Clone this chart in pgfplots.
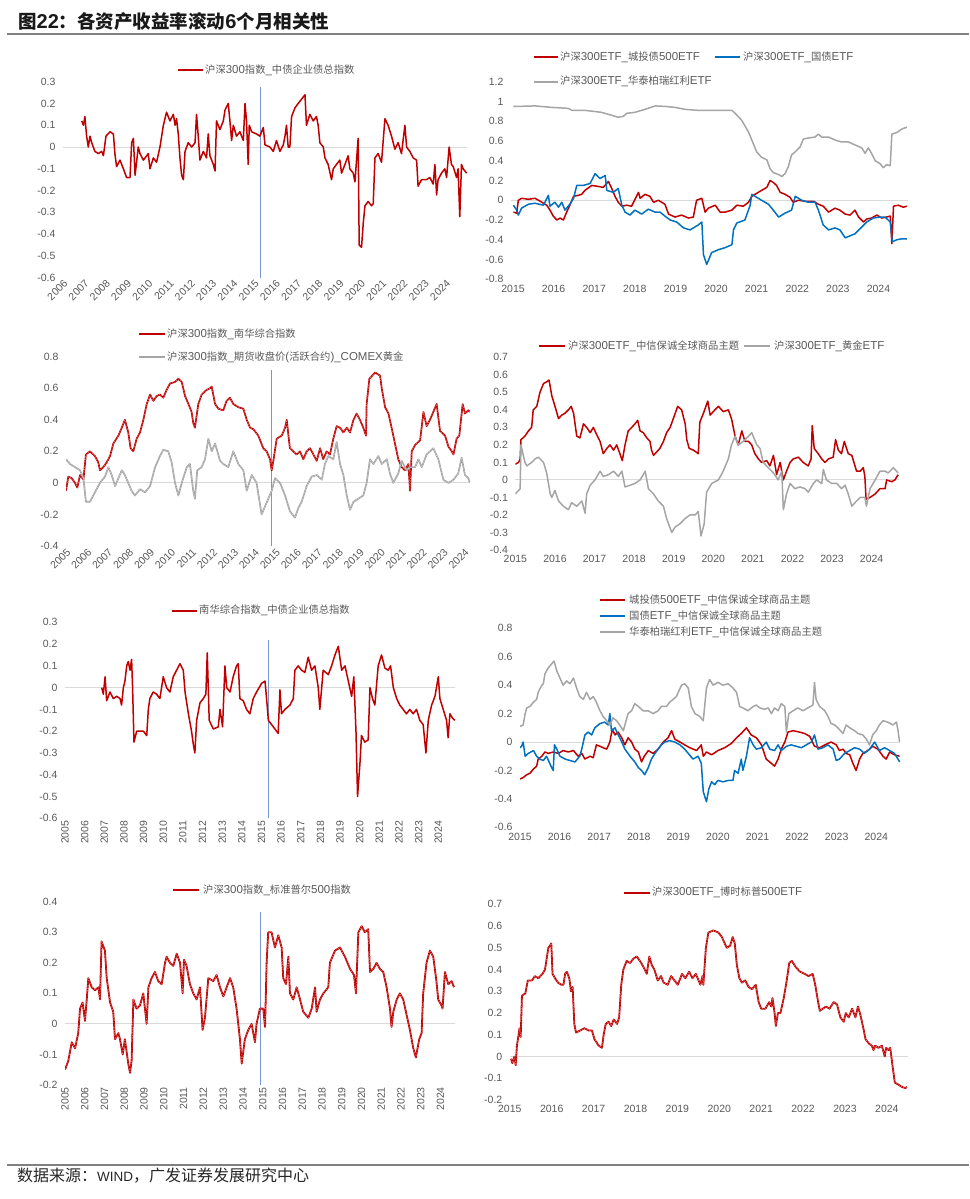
\documentclass[border=0pt]{standalone}
\usepackage{fontspec}
\setmainfont{Liberation Sans}
\newfontfamily\cjk{Noto Sans CJK SC}
\usepackage{pgfplots}
\usepackage{pgfplotstable}
\pgfplotsset{compat=1.18}
\definecolor{cred}{RGB}{192,0,0}
\definecolor{cblue}{RGB}{0,112,192}
\definecolor{cgray}{RGB}{165,165,165}
\definecolor{zgray}{RGB}{217,217,217}
\definecolor{tgray}{RGB}{89,89,89}
\definecolor{vblue}{RGB}{120,150,210}
\definecolor{rulegray}{RGB}{128,128,128}
\newcommand\C[1]{{\cjk\fontsize{10.3}{12}\selectfont #1}}
\newcommand\lf{\fontsize{11.5}{13}\selectfont}
\pgfplotsset{
  /pgf/number format/assume math mode=true,
  panel/.style={scale only axis, enlargelimits=false, anchor=south west,
    axis line style={draw=none}, tick style={draw=none}, major tick length=0pt,
    tick label style={font=\fontsize{10.5}{12}\selectfont, text=tgray},
    x tick label style={/pgf/number format/1000 sep={}},
    y tick label style={/pgf/number format/fixed, /pgf/number format/precision=1, xshift=-4pt},
    extra y ticks={0}, extra y tick labels={},
    extra y tick style={grid=major, major grid style={zgray, line width=0.9pt}}},
  rightp/.style={x tick label style={yshift=-2pt}, xtick={2015,2016,...,2024}},
  rser/.style={cred, line width=1.5pt, line join=round, no markers},
  bser/.style={cblue, line width=1.5pt, line join=round, no markers},
  gser/.style={cgray, line width=1.5pt, line join=round, no markers},
  speck/.style={white, opacity=0.5, line width=0.5pt, dash pattern=on 1.3pt off 1.3pt, no markers},
  vline/.style={vblue, line width=0.7pt, no markers}
}

% ---------- Panel 1 ----------
\pgfplotstableread{
x y
2006.88 0.12
2006.96 0.10
2007.03 0.14
2007.11 0.05
2007.19 0.00
2007.27 0.05
2007.35 0.02
2007.50 -0.02
2007.66 -0.03
2007.82 -0.02
2007.90 -0.04
2008.02 0.05
2008.21 0.07
2008.37 0.06
2008.44 -0.03
2008.52 -0.09
2008.68 -0.06
2008.84 -0.10
2008.99 -0.14
2009.15 -0.14
2009.23 0.02
2009.31 0.04
2009.39 -0.13
2009.54 0.00
2009.62 -0.03
2009.78 -0.06
2010.01 -0.03
2010.09 -0.10
2010.25 -0.05
2010.40 -0.07
2010.56 0.00
2010.72 0.10
2010.87 0.16
2011.03 0.12
2011.19 0.15
2011.27 0.10
2011.34 0.13
2011.42 0.06
2011.50 -0.05
2011.58 -0.13
2011.66 -0.15
2011.74 -0.02
2011.89 0.02
2012.05 0.00
2012.21 0.02
2012.28 0.15
2012.36 0.05
2012.44 -0.06
2012.60 -0.02
2012.75 -0.05
2012.83 0.06
2012.91 -0.04
2013.07 -0.08
2013.15 -0.11
2013.22 0.12
2013.38 0.08
2013.54 0.12
2013.62 0.17
2013.77 0.20
2013.85 0.12
2013.93 0.03
2014.01 0.10
2014.16 0.05
2014.32 0.07
2014.48 0.03
2014.56 0.20
2014.63 0.12
2014.71 -0.08
2014.76 0.10
2014.87 0.07
2015.10 0.06
2015.26 0.05
2015.42 0.09
2015.50 0.01
2015.73 0.00
2015.89 -0.02
2016.04 0.03
2016.20 -0.02
2016.36 0.01
2016.44 0.05
2016.51 0.10
2016.59 0.00
2016.67 0.00
2016.75 0.14
2016.91 0.18
2017.06 0.20
2017.22 0.22
2017.38 0.24
2017.45 0.10
2017.61 0.15
2017.77 0.12
2017.92 0.14
2018.00 0.10
2018.08 0.02
2018.24 0.00
2018.32 -0.05
2018.47 -0.08
2018.63 -0.15
2018.71 -0.10
2018.86 -0.08
2019.02 -0.06
2019.10 -0.12
2019.26 -0.08
2019.41 -0.04
2019.49 -0.10
2019.65 -0.12
2019.73 -0.16
2019.88 0.04
2019.93 -0.45
2020.04 -0.46
2020.12 -0.35
2020.20 -0.27
2020.35 -0.25
2020.51 -0.27
2020.59 -0.26
2020.67 -0.05
2020.82 -0.03
2020.98 -0.07
2021.14 0.13
2021.29 0.10
2021.45 0.05
2021.61 -0.01
2021.76 0.02
2021.92 -0.03
2022.08 0.10
2022.16 0.00
2022.31 -0.02
2022.47 -0.05
2022.63 -0.06
2022.70 -0.18
2022.86 -0.15
2023.09 -0.15
2023.25 -0.14
2023.41 -0.17
2023.49 -0.08
2023.57 -0.22
2023.64 -0.15
2023.80 -0.12
2023.96 -0.10
2024.04 -0.14
2024.16 0.00
2024.27 -0.08
2024.35 -0.09
2024.51 -0.14
2024.58 -0.10
2024.66 -0.32
2024.74 -0.08
2024.82 -0.10
2024.98 -0.12
}\tA

% ---------- Panel 2 ----------
\pgfplotstableread{
x y
2015.01 -0.12
2015.09 -0.13
2015.13 0.00
2015.21 0.02
2015.38 0.01
2015.54 0.02
2015.71 -0.02
2015.83 -0.05
2015.91 -0.10
2015.99 -0.16
2016.08 -0.20
2016.16 -0.18
2016.24 -0.20
2016.32 -0.12
2016.40 -0.05
2016.49 0.04
2016.61 0.05
2016.69 0.06
2016.77 0.10
2016.94 0.15
2017.10 0.14
2017.22 0.13
2017.35 0.19
2017.43 0.12
2017.51 0.04
2017.59 -0.02
2017.68 -0.06
2017.80 -0.05
2017.92 -0.06
2018.09 0.08
2018.13 0.02
2018.25 0.06
2018.37 0.04
2018.46 -0.02
2018.58 0.00
2018.74 -0.04
2018.83 -0.14
2018.99 -0.17
2019.15 -0.15
2019.32 -0.18
2019.44 -0.17
2019.52 0.00
2019.65 0.02
2019.73 -0.12
2019.81 -0.08
2019.98 -0.05
2020.10 -0.12
2020.22 -0.12
2020.39 -0.10
2020.51 -0.05
2020.67 -0.06
2020.80 -0.02
2020.88 0.04
2021.00 0.07
2021.12 0.10
2021.25 0.13
2021.33 0.20
2021.41 0.18
2021.49 0.15
2021.58 0.08
2021.70 0.06
2021.82 0.03
2021.90 -0.02
2022.03 0.00
2022.19 -0.01
2022.40 -0.01
2022.52 -0.04
2022.64 -0.06
2022.77 -0.12
2022.93 -0.08
2023.05 -0.10
2023.18 -0.14
2023.30 -0.15
2023.42 -0.10
2023.51 -0.17
2023.63 -0.22
2023.71 -0.19
2023.83 -0.18
2023.96 -0.15
2024.08 -0.18
2024.20 -0.17
2024.29 -0.16
2024.33 -0.44
2024.37 -0.06
2024.49 -0.05
2024.61 -0.07
2024.70 -0.06
}\tBr
\pgfplotstableread{
x y
2015.01 -0.05
2015.09 -0.10
2015.13 -0.15
2015.21 -0.08
2015.38 -0.04
2015.54 -0.03
2015.75 -0.05
2015.87 0.05
2015.91 -0.06
2016.03 -0.02
2016.12 -0.07
2016.20 -0.02
2016.28 -0.10
2016.40 -0.04
2016.49 0.02
2016.57 0.15
2016.73 0.15
2016.90 0.17
2017.02 0.27
2017.14 0.22
2017.27 0.25
2017.31 0.10
2017.47 0.08
2017.59 0.12
2017.68 -0.05
2017.76 -0.12
2017.88 -0.15
2018.00 -0.10
2018.17 -0.14
2018.33 -0.09
2018.50 -0.12
2018.62 -0.12
2018.74 -0.16
2018.87 -0.20
2019.03 -0.22
2019.20 -0.28
2019.36 -0.30
2019.56 -0.25
2019.65 -0.22
2019.69 -0.55
2019.77 -0.65
2019.89 -0.53
2020.06 -0.50
2020.22 -0.48
2020.39 -0.45
2020.43 -0.30
2020.51 -0.23
2020.71 -0.20
2020.84 -0.05
2020.88 0.06
2021.00 0.03
2021.12 0.00
2021.29 -0.04
2021.41 -0.10
2021.54 -0.17
2021.70 -0.13
2021.86 -0.10
2021.95 0.04
2022.11 0.00
2022.27 -0.02
2022.44 -0.02
2022.52 -0.10
2022.64 -0.25
2022.77 -0.30
2022.93 -0.28
2023.05 -0.30
2023.18 -0.38
2023.30 -0.36
2023.42 -0.34
2023.59 -0.27
2023.71 -0.22
2023.87 -0.18
2024.04 -0.17
2024.16 -0.17
2024.29 -0.22
2024.34 -0.42
2024.45 -0.40
2024.57 -0.39
2024.70 -0.39
}\tBb
\pgfplotstableread{
x y
2015.01 0.95
2015.13 0.95
2015.54 0.955
2015.95 0.94
2016.36 0.93
2016.45 0.91
2016.77 0.91
2017.18 0.89
2017.43 0.86
2017.59 0.84
2017.72 0.85
2017.80 0.88
2018.00 0.89
2018.25 0.92
2018.50 0.955
2018.74 0.95
2018.99 0.94
2019.24 0.92
2019.56 0.91
2019.89 0.91
2020.06 0.91
2020.39 0.91
2020.47 0.88
2020.63 0.81
2020.80 0.69
2020.88 0.61
2021.00 0.49
2021.12 0.435
2021.25 0.41
2021.33 0.32
2021.41 0.28
2021.54 0.26
2021.62 0.24
2021.70 0.27
2021.78 0.34
2021.86 0.46
2021.95 0.49
2022.07 0.54
2022.15 0.62
2022.27 0.63
2022.44 0.64
2022.52 0.67
2022.60 0.64
2022.77 0.64
2022.93 0.61
2023.09 0.59
2023.26 0.59
2023.42 0.56
2023.59 0.53
2023.67 0.475
2023.75 0.53
2023.83 0.475
2023.92 0.40
2024.04 0.37
2024.12 0.33
2024.20 0.36
2024.29 0.35
2024.33 0.67
2024.45 0.685
2024.57 0.72
2024.70 0.74
}\tBg

% ---------- Panel 3 ----------
\pgfplotstableread{
x y
2005.00 -0.05
2005.11 0.04
2005.27 0.03
2005.43 0.00
2005.54 -0.03
2005.67 0.05
2005.83 0.02
2005.95 0.18
2006.14 0.20
2006.38 0.17
2006.54 0.13
2006.62 0.08
2006.78 0.10
2006.94 0.13
2007.10 0.17
2007.26 0.25
2007.50 0.30
2007.66 0.35
2007.81 0.40
2007.97 0.32
2008.08 0.22
2008.21 0.20
2008.37 0.28
2008.53 0.32
2008.69 0.40
2008.85 0.50
2009.01 0.56
2009.17 0.52
2009.32 0.55
2009.48 0.56
2009.64 0.54
2009.80 0.59
2009.96 0.63
2010.20 0.64
2010.36 0.66
2010.52 0.64
2010.68 0.55
2010.84 0.50
2010.99 0.45
2011.07 0.38
2011.15 0.35
2011.31 0.50
2011.47 0.56
2011.71 0.59
2011.87 0.60
2011.95 0.61
2012.11 0.50
2012.27 0.47
2012.50 0.46
2012.66 0.52
2012.82 0.54
2012.98 0.50
2013.22 0.48
2013.46 0.47
2013.62 0.40
2013.78 0.35
2013.94 0.34
2014.17 0.30
2014.41 0.22
2014.57 0.20
2014.73 0.15
2014.81 0.08
2014.89 0.14
2015.05 0.28
2015.29 0.30
2015.45 0.35
2015.53 0.40
2015.61 0.30
2015.68 0.22
2015.84 0.20
2016.00 0.18
2016.16 0.20
2016.32 0.15
2016.48 0.20
2016.64 0.22
2016.80 0.18
2016.96 0.14
2017.12 0.22
2017.27 0.15
2017.43 0.20
2017.59 0.18
2017.75 0.28
2017.91 0.36
2018.07 0.35
2018.23 0.32
2018.39 0.35
2018.55 0.32
2018.71 0.40
2018.86 0.44
2019.02 0.40
2019.18 0.35
2019.31 0.30
2019.34 0.50
2019.47 0.66
2019.74 0.70
2019.98 0.68
2020.06 0.60
2020.22 0.48
2020.38 0.44
2020.53 0.35
2020.69 0.25
2020.85 0.15
2021.01 0.10
2021.17 0.08
2021.33 0.12
2021.41 -0.05
2021.49 0.20
2021.65 0.24
2021.89 0.27
2022.05 0.45
2022.20 0.36
2022.36 0.40
2022.52 0.45
2022.68 0.50
2022.84 0.33
2023.08 0.30
2023.24 0.23
2023.40 0.20
2023.48 0.18
2023.63 0.28
2023.76 0.30
2023.92 0.50
2024.03 0.44
2024.19 0.46
2024.27 0.45
}\tCr
\pgfplotstableread{
x y
2005.00 0.15
2005.19 0.12
2005.43 0.10
2005.67 0.08
2005.83 0.03
2005.95 -0.12
2006.14 -0.12
2006.38 -0.06
2006.62 0.00
2006.86 0.04
2007.02 0.10
2007.18 0.05
2007.34 -0.02
2007.50 0.03
2007.66 0.08
2007.81 0.05
2007.97 0.00
2008.13 -0.05
2008.29 -0.08
2008.53 -0.04
2008.77 -0.06
2009.01 -0.02
2009.25 0.10
2009.48 0.17
2009.64 0.21
2009.88 0.20
2010.04 0.13
2010.20 0.00
2010.36 -0.08
2010.52 0.00
2010.76 0.10
2010.91 0.12
2011.07 -0.05
2011.15 -0.10
2011.26 0.08
2011.47 0.10
2011.63 0.15
2011.79 0.28
2011.95 0.20
2012.11 0.25
2012.35 0.14
2012.50 0.12
2012.74 0.10
2012.98 0.20
2013.22 0.12
2013.46 0.08
2013.62 -0.05
2013.86 0.05
2014.09 0.00
2014.33 -0.20
2014.49 -0.15
2014.65 -0.10
2014.81 -0.05
2014.97 0.03
2015.21 0.00
2015.45 -0.08
2015.68 -0.18
2015.92 -0.22
2016.08 -0.16
2016.24 -0.12
2016.48 -0.02
2016.72 0.04
2016.96 0.05
2017.20 0.02
2017.35 0.12
2017.51 0.17
2017.75 0.15
2017.91 0.26
2018.07 0.12
2018.23 0.05
2018.39 -0.08
2018.55 -0.17
2018.71 -0.12
2018.94 -0.10
2019.18 -0.08
2019.34 0.00
2019.50 0.15
2019.66 0.12
2019.90 0.17
2020.06 0.12
2020.30 0.15
2020.45 0.06
2020.61 0.00
2020.85 0.06
2021.01 0.14
2021.25 0.08
2021.41 0.10
2021.65 0.10
2021.81 0.15
2021.97 0.10
2022.20 0.18
2022.52 0.22
2022.76 0.15
2023.00 0.02
2023.24 0.00
2023.48 0.02
2023.71 0.06
2023.87 0.16
2024.03 0.05
2024.19 0.03
2024.27 0.00
}\tCg

% ---------- Panel 4 ----------
\pgfplotstableread{
x y
2015.00 0.09
2015.08 0.10
2015.12 0.12
2015.14 0.23
2015.24 0.25
2015.33 0.28
2015.41 0.30
2015.45 0.40
2015.54 0.42
2015.62 0.50
2015.71 0.55
2015.79 0.56
2015.85 0.57
2015.92 0.48
2016.00 0.42
2016.09 0.35
2016.17 0.37
2016.25 0.38
2016.34 0.40
2016.41 0.42
2016.47 0.38
2016.55 0.25
2016.63 0.24
2016.72 0.32
2016.80 0.30
2016.89 0.27
2016.97 0.30
2017.05 0.26
2017.14 0.22
2017.22 0.15
2017.31 0.18
2017.39 0.20
2017.48 0.17
2017.56 0.20
2017.64 0.15
2017.70 0.11
2017.77 0.20
2017.85 0.28
2017.94 0.30
2018.02 0.32
2018.09 0.34
2018.15 0.28
2018.23 0.27
2018.32 0.24
2018.40 0.22
2018.44 0.17
2018.49 0.14
2018.57 0.16
2018.65 0.18
2018.74 0.22
2018.82 0.27
2018.91 0.30
2018.99 0.35
2019.10 0.42
2019.20 0.40
2019.29 0.32
2019.33 0.23
2019.39 0.18
2019.50 0.17
2019.62 0.15
2019.66 0.33
2019.75 0.38
2019.86 0.45
2019.92 0.37
2020.04 0.40
2020.13 0.42
2020.25 0.39
2020.38 0.40
2020.46 0.35
2020.55 0.25
2020.63 0.20
2020.72 0.28
2020.80 0.22
2020.89 0.22
2020.97 0.20
2021.05 0.15
2021.14 0.12
2021.22 0.10
2021.35 0.11
2021.43 0.08
2021.52 0.14
2021.60 0.03
2021.69 0.10
2021.77 0.00
2021.85 0.05
2021.94 0.10
2022.02 0.12
2022.15 0.13
2022.27 0.10
2022.40 0.08
2022.47 0.12
2022.50 0.31
2022.55 0.18
2022.65 0.15
2022.74 0.12
2022.82 0.10
2022.91 0.12
2023.03 0.13
2023.09 0.23
2023.16 0.17
2023.24 0.15
2023.31 0.22
2023.41 0.15
2023.50 0.14
2023.62 0.05
2023.71 0.05
2023.79 0.07
2023.83 0.02
2023.86 -0.11
2023.96 -0.10
2024.09 -0.08
2024.21 -0.05
2024.34 -0.05
2024.38 0.00
2024.51 -0.01
2024.59 0.00
2024.67 0.03
}\tDr
\pgfplotstableread{
x y
2015.00 -0.08
2015.08 -0.06
2015.12 -0.05
2015.14 0.20
2015.20 0.14
2015.24 0.10
2015.29 0.08
2015.41 0.10
2015.50 0.12
2015.58 0.13
2015.71 0.10
2015.79 0.04
2015.88 -0.08
2015.92 -0.10
2016.00 -0.06
2016.09 -0.12
2016.21 -0.15
2016.34 -0.17
2016.42 -0.13
2016.55 -0.15
2016.68 -0.12
2016.76 -0.19
2016.80 -0.08
2016.89 -0.03
2017.01 0.00
2017.14 0.05
2017.22 0.02
2017.35 0.03
2017.48 0.05
2017.60 0.02
2017.69 0.05
2017.77 -0.04
2017.90 -0.03
2018.02 -0.02
2018.15 0.00
2018.28 0.05
2018.36 -0.05
2018.49 -0.08
2018.61 -0.12
2018.74 -0.15
2018.82 -0.22
2018.95 -0.30
2019.03 -0.27
2019.16 -0.25
2019.29 -0.22
2019.41 -0.20
2019.54 -0.20
2019.62 -0.18
2019.69 -0.32
2019.77 -0.25
2019.83 -0.07
2019.96 -0.02
2020.13 0.00
2020.25 0.05
2020.38 0.12
2020.46 0.20
2020.55 0.25
2020.63 0.20
2020.76 0.22
2020.89 0.25
2020.97 0.27
2021.10 0.20
2021.18 0.18
2021.26 0.10
2021.39 0.07
2021.52 0.04
2021.64 0.00
2021.73 0.05
2021.77 -0.17
2021.85 -0.08
2021.94 -0.02
2022.06 -0.05
2022.19 -0.04
2022.32 -0.05
2022.40 -0.07
2022.53 -0.02
2022.61 0.00
2022.74 -0.02
2022.78 0.06
2022.86 0.00
2022.99 -0.02
2023.12 -0.02
2023.24 -0.05
2023.33 -0.03
2023.41 -0.08
2023.50 -0.15
2023.58 -0.13
2023.71 -0.10
2023.83 -0.10
2023.87 -0.15
2023.96 -0.05
2024.09 0.00
2024.21 0.05
2024.34 0.05
2024.42 0.04
2024.55 0.07
2024.67 0.04
}\tDg

% ---------- Panel 5 ----------
\pgfplotstableread{
x y
2006.87 0.00
2006.95 -0.03
2007.04 0.05
2007.12 -0.06
2007.29 -0.02
2007.46 -0.05
2007.63 -0.04
2007.80 -0.05
2007.88 -0.08
2007.97 0.00
2008.05 0.03
2008.14 0.10
2008.22 0.12
2008.31 0.08
2008.39 0.13
2008.44 0.00
2008.51 -0.25
2008.65 -0.20
2008.82 -0.20
2008.99 -0.20
2009.16 -0.22
2009.24 -0.10
2009.32 -0.05
2009.49 -0.02
2009.66 -0.03
2009.83 -0.05
2010.00 0.05
2010.17 0.00
2010.34 -0.02
2010.51 0.05
2010.68 0.08
2010.85 0.11
2011.02 0.08
2011.11 -0.02
2011.28 -0.12
2011.44 -0.20
2011.53 -0.26
2011.61 -0.30
2011.70 -0.15
2011.87 -0.07
2012.04 -0.05
2012.17 -0.03
2012.24 0.16
2012.34 -0.15
2012.55 -0.19
2012.80 -0.18
2012.89 -0.10
2013.02 -0.18
2013.14 0.10
2013.23 0.00
2013.40 -0.02
2013.56 0.05
2013.73 0.10
2013.82 0.11
2013.90 -0.05
2014.07 -0.06
2014.24 -0.10
2014.41 -0.12
2014.58 -0.05
2014.75 -0.02
2015.01 0.02
2015.18 0.03
2015.26 -0.05
2015.35 -0.15
2015.60 -0.18
2015.85 -0.21
2015.94 -0.01
2016.02 -0.12
2016.19 -0.10
2016.45 -0.08
2016.62 -0.05
2016.70 0.08
2016.87 0.10
2017.04 0.08
2017.21 0.07
2017.38 0.14
2017.55 0.08
2017.72 0.10
2017.89 0.00
2017.97 -0.10
2018.14 0.08
2018.40 0.06
2018.57 0.10
2018.74 0.15
2018.91 0.19
2019.08 0.08
2019.25 0.10
2019.42 0.03
2019.59 -0.04
2019.70 0.05
2019.81 -0.20
2019.89 -0.50
2020.01 -0.35
2020.09 -0.22
2020.26 -0.25
2020.43 -0.24
2020.52 0.00
2020.65 -0.05
2020.77 -0.08
2020.94 0.10
2021.11 0.15
2021.28 0.09
2021.45 0.08
2021.57 0.10
2021.71 0.00
2021.88 -0.05
2022.04 -0.08
2022.21 -0.10
2022.38 -0.12
2022.55 -0.10
2022.72 -0.12
2022.89 -0.10
2023.06 -0.15
2023.23 -0.17
2023.37 -0.30
2023.49 -0.15
2023.66 -0.08
2023.83 -0.04
2024.00 0.05
2024.08 -0.05
2024.25 -0.10
2024.42 -0.15
2024.50 -0.23
2024.59 -0.12
2024.72 -0.14
2024.84 -0.15
}\tE

% ---------- Panel 6 ----------
\pgfplotstableread{
x y
2015.00 -0.26
2015.08 -0.25
2015.17 -0.23
2015.25 -0.22
2015.34 -0.19
2015.42 -0.17
2015.46 -0.12
2015.55 -0.10
2015.63 -0.07
2015.71 -0.08
2015.84 -0.07
2015.97 -0.08
2016.09 -0.06
2016.22 -0.07
2016.35 -0.06
2016.47 -0.10
2016.56 -0.08
2016.64 -0.12
2016.77 -0.10
2016.85 -0.11
2016.93 -0.02
2017.02 -0.03
2017.10 -0.04
2017.19 -0.05
2017.27 0.00
2017.33 0.09
2017.40 0.05
2017.48 0.07
2017.57 0.03
2017.65 -0.02
2017.73 0.03
2017.82 0.00
2017.90 -0.05
2017.99 -0.07
2018.07 -0.14
2018.14 -0.10
2018.24 -0.06
2018.36 -0.08
2018.49 -0.05
2018.62 0.00
2018.74 0.03
2018.83 0.08
2018.91 0.02
2019.04 0.00
2019.16 -0.02
2019.29 -0.04
2019.46 -0.06
2019.58 -0.02
2019.63 -0.10
2019.71 -0.07
2019.84 -0.09
2020.00 -0.06
2020.17 -0.04
2020.34 -0.01
2020.47 0.03
2020.59 0.06
2020.72 0.10
2020.84 0.05
2020.97 0.03
2021.10 -0.02
2021.22 -0.12
2021.35 -0.15
2021.43 -0.17
2021.52 -0.12
2021.60 -0.05
2021.69 0.00
2021.77 0.07
2021.90 0.08
2022.06 0.07
2022.19 0.06
2022.32 0.04
2022.44 -0.03
2022.57 -0.04
2022.70 -0.02
2022.86 0.00
2022.99 -0.02
2023.07 -0.06
2023.16 -0.05
2023.24 -0.08
2023.33 -0.09
2023.41 -0.15
2023.49 -0.20
2023.58 -0.12
2023.66 -0.08
2023.79 -0.06
2023.91 -0.03
2024.04 -0.05
2024.17 -0.10
2024.25 -0.12
2024.34 -0.07
2024.46 -0.09
2024.59 -0.10
}\tFr
\pgfplotstableread{
x y
2015.00 -0.04
2015.04 -0.03
2015.08 0.00
2015.13 -0.10
2015.21 -0.08
2015.34 -0.06
2015.42 -0.10
2015.50 -0.12
2015.59 -0.13
2015.67 -0.10
2015.80 -0.18
2015.84 -0.20
2015.87 -0.02
2015.93 -0.05
2016.01 -0.10
2016.14 -0.12
2016.26 -0.13
2016.39 -0.14
2016.51 -0.10
2016.56 -0.05
2016.64 0.05
2016.72 0.07
2016.81 0.05
2016.89 0.10
2017.02 0.13
2017.14 0.14
2017.23 0.12
2017.27 0.20
2017.31 0.08
2017.40 0.10
2017.48 0.05
2017.57 0.00
2017.65 -0.05
2017.78 -0.10
2017.90 -0.14
2017.99 -0.18
2018.07 -0.20
2018.15 -0.23
2018.24 -0.18
2018.32 -0.12
2018.41 -0.08
2018.49 -0.05
2018.57 -0.02
2018.66 0.00
2018.78 0.01
2018.91 0.00
2019.04 -0.02
2019.16 -0.05
2019.25 -0.08
2019.37 -0.12
2019.50 -0.10
2019.58 -0.15
2019.63 -0.35
2019.71 -0.42
2019.77 -0.33
2019.84 -0.28
2019.92 -0.30
2020.00 -0.27
2020.13 -0.28
2020.26 -0.27
2020.38 -0.27
2020.42 -0.20
2020.51 -0.22
2020.59 -0.12
2020.63 -0.20
2020.72 -0.10
2020.80 0.03
2020.89 -0.02
2020.97 -0.05
2021.10 -0.04
2021.22 0.00
2021.31 -0.05
2021.43 -0.06
2021.52 -0.02
2021.60 -0.06
2021.73 -0.03
2021.85 -0.02
2021.98 -0.03
2022.11 -0.04
2022.23 -0.02
2022.36 0.00
2022.44 0.05
2022.53 -0.05
2022.65 -0.04
2022.78 -0.02
2022.91 -0.05
2022.99 -0.13
2023.07 -0.12
2023.20 -0.08
2023.33 -0.06
2023.45 -0.04
2023.58 -0.05
2023.70 -0.08
2023.83 -0.05
2023.96 0.00
2024.08 -0.06
2024.21 -0.04
2024.34 -0.06
2024.46 -0.08
2024.55 -0.12
2024.59 -0.14
}\tFb
\pgfplotstableread{
x y
2015.00 0.11
2015.08 0.12
2015.13 0.20
2015.17 0.24
2015.25 0.25
2015.34 0.28
2015.42 0.30
2015.46 0.35
2015.55 0.40
2015.59 0.41
2015.63 0.48
2015.71 0.52
2015.80 0.55
2015.86 0.57
2015.93 0.50
2016.01 0.45
2016.09 0.40
2016.18 0.43
2016.26 0.41
2016.35 0.45
2016.43 0.38
2016.51 0.32
2016.60 0.30
2016.68 0.35
2016.77 0.30
2016.85 0.32
2016.93 0.28
2017.02 0.22
2017.10 0.18
2017.19 0.15
2017.27 0.12
2017.35 0.17
2017.44 0.15
2017.52 0.12
2017.61 0.08
2017.65 0.12
2017.73 0.20
2017.82 0.22
2017.90 0.27
2017.99 0.25
2018.11 0.22
2018.24 0.22
2018.36 0.20
2018.49 0.22
2018.57 0.25
2018.70 0.25
2018.78 0.28
2018.87 0.30
2018.95 0.32
2019.08 0.40
2019.16 0.41
2019.25 0.38
2019.33 0.25
2019.42 0.20
2019.54 0.18
2019.63 0.15
2019.71 0.38
2019.79 0.44
2019.88 0.40
2020.00 0.42
2020.13 0.40
2020.26 0.41
2020.38 0.38
2020.47 0.35
2020.55 0.25
2020.63 0.24
2020.76 0.22
2020.89 0.25
2020.97 0.26
2021.06 0.24
2021.18 0.23
2021.27 0.24
2021.35 0.20
2021.43 0.24
2021.52 0.22
2021.60 0.27
2021.69 0.25
2021.73 0.07
2021.79 0.20
2021.90 0.22
2022.02 0.24
2022.15 0.22
2022.27 0.24
2022.40 0.26
2022.44 0.42
2022.48 0.30
2022.57 0.25
2022.70 0.22
2022.78 0.18
2022.86 0.13
2022.95 0.12
2023.03 0.10
2023.16 0.06
2023.24 0.12
2023.33 0.10
2023.45 0.08
2023.54 0.06
2023.66 0.05
2023.75 0.02
2023.83 -0.02
2023.91 0.05
2024.00 0.08
2024.08 0.12
2024.17 0.15
2024.29 0.14
2024.42 0.12
2024.51 0.14
2024.55 0.08
2024.59 0.00
}\tFg

% ---------- Panel 7 ----------
\pgfplotstableread{
x y
2005.00 -0.15
2005.17 -0.12
2005.34 -0.06
2005.51 -0.08
2005.67 -0.03
2005.76 0.05
2005.89 0.07
2006.01 0.01
2006.10 0.08
2006.18 0.15
2006.35 0.12
2006.52 0.11
2006.69 0.12
2006.77 0.08
2006.85 0.27
2007.02 0.24
2007.11 0.15
2007.28 0.07
2007.44 0.04
2007.53 -0.05
2007.70 -0.03
2007.78 -0.05
2007.92 -0.10
2008.03 -0.05
2008.20 -0.13
2008.29 -0.16
2008.37 -0.12
2008.46 0.08
2008.62 0.05
2008.79 0.06
2008.96 0.10
2009.13 0.00
2009.22 0.12
2009.38 0.15
2009.55 0.17
2009.72 0.14
2009.89 0.13
2010.06 0.20
2010.14 0.22
2010.31 0.20
2010.48 0.19
2010.65 0.23
2010.82 0.20
2010.95 0.10
2011.02 0.21
2011.15 0.19
2011.32 0.13
2011.49 0.10
2011.66 0.08
2011.83 0.12
2011.96 -0.02
2012.08 0.02
2012.25 0.15
2012.50 0.14
2012.67 0.16
2012.84 0.12
2013.01 0.09
2013.18 0.12
2013.35 0.15
2013.51 0.12
2013.68 0.05
2013.85 -0.05
2013.94 -0.13
2014.10 -0.05
2014.27 -0.02
2014.44 0.00
2014.61 -0.06
2014.69 0.00
2014.86 0.05
2015.03 0.05
2015.12 -0.01
2015.20 0.20
2015.28 0.30
2015.45 0.30
2015.62 0.25
2015.79 0.29
2015.96 0.25
2016.04 0.15
2016.18 0.13
2016.30 0.22
2016.38 0.10
2016.55 0.08
2016.72 0.12
2016.89 0.08
2017.05 0.04
2017.31 0.02
2017.48 0.05
2017.65 0.12
2017.73 0.04
2017.90 0.08
2018.07 0.10
2018.32 0.12
2018.40 0.20
2018.66 0.24
2018.91 0.25
2019.16 0.22
2019.42 0.18
2019.62 0.16
2019.72 0.10
2019.84 0.30
2020.01 0.32
2020.17 0.30
2020.34 0.31
2020.43 0.17
2020.60 0.18
2020.76 0.20
2020.93 0.18
2021.10 0.17
2021.27 0.12
2021.44 0.05
2021.52 -0.01
2021.61 0.04
2021.78 0.08
2021.94 0.10
2022.11 0.08
2022.28 0.03
2022.45 -0.02
2022.62 -0.08
2022.75 -0.11
2022.92 -0.05
2023.04 -0.03
2023.12 0.10
2023.29 0.20
2023.46 0.24
2023.63 0.22
2023.79 0.14
2023.88 0.08
2024.05 0.06
2024.10 0.05
2024.22 0.17
2024.39 0.13
2024.56 0.14
2024.68 0.12
}\tG

% ---------- Panel 8 ----------
\pgfplotstableread{
x y
2015.03 -0.01
2015.06 -0.03
2015.11 0.00
2015.14 -0.04
2015.17 0.05
2015.21 0.10
2015.23 0.13
2015.26 0.09
2015.29 0.28
2015.37 0.29
2015.43 0.35
2015.53 0.35
2015.60 0.37
2015.68 0.36
2015.78 0.38
2015.84 0.40
2015.88 0.45
2015.92 0.50
2015.96 0.51
2015.99 0.52
2016.02 0.38
2016.08 0.36
2016.15 0.34
2016.23 0.33
2016.28 0.33
2016.32 0.38
2016.36 0.39
2016.42 0.36
2016.46 0.30
2016.50 0.32
2016.54 0.15
2016.58 0.11
2016.68 0.12
2016.78 0.13
2016.88 0.12
2016.96 0.12
2017.02 0.08
2017.12 0.05
2017.20 0.04
2017.24 0.10
2017.29 0.15
2017.36 0.16
2017.42 0.14
2017.48 0.17
2017.56 0.15
2017.61 0.18
2017.66 0.33
2017.71 0.40
2017.79 0.44
2017.87 0.43
2017.95 0.45
2018.03 0.46
2018.14 0.43
2018.22 0.40
2018.27 0.38
2018.33 0.46
2018.39 0.42
2018.45 0.40
2018.53 0.35
2018.61 0.37
2018.67 0.34
2018.77 0.33
2018.85 0.37
2018.93 0.35
2019.01 0.33
2019.11 0.38
2019.19 0.36
2019.28 0.39
2019.36 0.36
2019.44 0.38
2019.55 0.33
2019.60 0.37
2019.62 0.33
2019.68 0.50
2019.74 0.57
2019.86 0.58
2019.98 0.57
2020.06 0.55
2020.13 0.52
2020.18 0.50
2020.26 0.51
2020.32 0.55
2020.37 0.52
2020.42 0.42
2020.48 0.36
2020.54 0.34
2020.62 0.35
2020.70 0.32
2020.78 0.31
2020.87 0.33
2020.94 0.25
2021.00 0.22
2021.10 0.22
2021.19 0.25
2021.24 0.23
2021.27 0.27
2021.32 0.20
2021.35 0.14
2021.40 0.20
2021.46 0.20
2021.54 0.27
2021.61 0.35
2021.67 0.43
2021.73 0.44
2021.83 0.41
2021.93 0.39
2022.04 0.38
2022.13 0.37
2022.23 0.38
2022.29 0.33
2022.36 0.25
2022.40 0.21
2022.47 0.22
2022.55 0.23
2022.63 0.22
2022.73 0.25
2022.81 0.24
2022.89 0.18
2022.97 0.16
2023.02 0.20
2023.09 0.18
2023.17 0.22
2023.25 0.18
2023.31 0.23
2023.37 0.19
2023.45 0.12
2023.49 0.08
2023.57 0.06
2023.64 0.05
2023.68 0.03
2023.72 0.05
2023.80 0.04
2023.88 0.05
2023.95 0.00
2023.98 0.04
2024.04 0.03
2024.08 0.04
2024.14 -0.05
2024.19 -0.12
2024.28 -0.13
2024.36 -0.14
2024.44 -0.145
2024.48 -0.14
}\tH

\begin{document}
\begin{tikzpicture}[x=1pt,y=1pt]
\useasboundingbox (0pt,0pt) rectangle (969pt,-1199pt);

% Title and rules
\node[anchor=west, inner sep=0pt, text=black!90] at (18pt,-21.5pt)
  {\bfseries{\cjk\fontsize{18.5}{20}\selectfont 图}{\fontsize{20}{22}\selectfont 22}{\cjk\fontsize{18.5}{20}\selectfont ：各资产收益率滚动}{\fontsize{20}{22}\selectfont 6}{\cjk\fontsize{18.5}{20}\selectfont 个月相关性}};
\draw[rulegray, line width=2pt] (7pt,-34.3pt) -- (969pt,-34.3pt);
\draw[rulegray, line width=2pt] (7pt,-1165pt) -- (969pt,-1165pt);
\node[anchor=west, inner sep=0pt, text=black!85] at (17pt,-1176pt)
  {{\cjk\fontsize{16}{18}\selectfont 数据来源：}{\fontsize{13.5}{15}\selectfont WIND}{\cjk\fontsize{16}{18}\selectfont ，广发证券发展研究中心}};

% ===== Panel 1 =====
\begin{axis}[panel, at={(63pt,-277.7pt)}, width=404pt, height=196pt,
  xmin=2006, xmax=2025, ymin=-0.6, ymax=0.3,
  xtick={2006,2007,...,2024}, x tick label style={rotate=45, anchor=north east, inner sep=1pt},
  ytick={-0.6,-0.5,-0.4,-0.3,-0.2,-0.1,0,0.1,0.2,0.3}]
\addplot[vline] coordinates {(2015.29,-0.6) (2015.29,0.275)};
\addplot[rser] table[x=x,y=y]{\tA};
\end{axis}
\draw[cred, line width=2.2pt] (178pt,-70pt) -- (203pt,-70pt);
\node[anchor=west, inner sep=0pt, text=tgray, font=\lf] at (205pt,-70pt) {\C{沪深}300\C{指数}\_\C{中债企业债总指数}};

% ===== Panel 2 =====
\begin{axis}[panel, rightp, at={(511pt,-279.3pt)}, width=396.7pt, height=197.6pt,
  xmin=2014.95, xmax=2024.72, ymin=-0.8, ymax=1.2,
  ytick={-0.8,-0.6,-0.4,-0.2,0,0.2,0.4,0.6,0.8,1,1.2}]
\addplot[rser] table[x=x,y=y]{\tBr};
\addplot[bser] table[x=x,y=y]{\tBb};
\addplot[gser] table[x=x,y=y]{\tBg};
\end{axis}
\draw[cred, line width=2.2pt] (534pt,-57.3pt) -- (558pt,-57.3pt);
\node[anchor=west, inner sep=0pt, text=tgray, font=\lf] at (560pt,-57.3pt) {\C{沪深}300ETF\_\C{城投债}500ETF};
\draw[cblue, line width=2.2pt] (715pt,-57.3pt) -- (740pt,-57.3pt);
\node[anchor=west, inner sep=0pt, text=tgray, font=\lf] at (743pt,-57.3pt) {\C{沪深}300ETF\_\C{国债}ETF};
\draw[cgray, line width=2.2pt] (534pt,-81.7pt) -- (558pt,-81.7pt);
\node[anchor=west, inner sep=0pt, text=tgray, font=\lf] at (560pt,-81.7pt) {\C{沪深}300ETF\_\C{华泰柏瑞红利}ETF};

% ===== Panel 3 =====
\begin{axis}[panel, at={(66pt,-546pt)}, width=404pt, height=189.3pt,
  xmin=2005, xmax=2024.27, ymin=-0.4, ymax=0.8,
  xtick={2005,2006,...,2024}, x tick label style={rotate=45, anchor=north east, inner sep=1pt},
  ytick={-0.4,-0.2,0,0.2,0.4,0.6,0.8}]
\addplot[vline] coordinates {(2014.81,-0.4) (2014.81,0.714)};
\addplot[rser, line width=1.7pt] table[x=x,y=y]{\tCr};
\addplot[speck] table[x=x,y=y]{\tCr};
\addplot[gser, line width=1.7pt] table[x=x,y=y]{\tCg};
\addplot[speck] table[x=x,y=y]{\tCg};
\end{axis}
\draw[cred, line width=2.2pt] (139pt,-334pt) -- (165pt,-334pt);
\node[anchor=west, inner sep=0pt, text=tgray, font=\lf] at (167pt,-334pt) {\C{沪深}300\C{指数}\_\C{南华综合指数}};
\draw[cgray, line width=2.2pt] (139pt,-357.3pt) -- (165pt,-357.3pt);
\node[anchor=west, inner sep=0pt, text=tgray, font=\lf] at (167pt,-357.3pt) {\C{沪深}300\C{指数}\_\C{期货收盘价}(\C{活跃合约})\_COMEX\C{黄金}};

% ===== Panel 4 =====
\begin{axis}[panel, rightp, at={(515.4pt,-550pt)}, width=383.9pt, height=192.7pt,
  xmin=2015, xmax=2024.7, ymin=-0.4, ymax=0.7,
  ytick={-0.4,-0.3,-0.2,-0.1,0,0.1,0.2,0.3,0.4,0.5,0.6,0.7}]
\addplot[rser] table[x=x,y=y]{\tDr};
\addplot[gser] table[x=x,y=y]{\tDg};
\end{axis}
\draw[cred, line width=2.2pt] (539pt,-346pt) -- (565pt,-346pt);
\node[anchor=west, inner sep=0pt, text=tgray, font=\lf] at (568pt,-346pt) {\C{沪深}300ETF\_\C{中信保诚全球商品主题}};
\draw[cgray, line width=2.2pt] (744pt,-346pt) -- (770pt,-346pt);
\node[anchor=west, inner sep=0pt, text=tgray, font=\lf] at (774pt,-346pt) {\C{沪深}300ETF\_\C{黄金}ETF};

% ===== Panel 5 =====
\begin{axis}[panel, at={(65pt,-818.3pt)}, width=390pt, height=196pt,
  xmin=2005, xmax=2024.85, ymin=-0.6, ymax=0.3,
  xtick={2005,2006,...,2024}, x tick label style={rotate=90, anchor=east, inner sep=2pt},
  ytick={-0.6,-0.5,-0.4,-0.3,-0.2,-0.1,0,0.1,0.2,0.3}]
\addplot[vline] coordinates {(2015.35,-0.6) (2015.35,0.219)};
\addplot[rser] table[x=x,y=y]{\tE};
\end{axis}
\draw[cred, line width=2.2pt] (172pt,-610.7pt) -- (197pt,-610.7pt);
\node[anchor=west, inner sep=0pt, text=tgray, font=\lf] at (199pt,-610.7pt) {\C{南华综合指数}\_\C{中债企业债总指数}};

% ===== Panel 6 =====
\begin{axis}[panel, rightp, at={(520pt,-827.3pt)}, width=380pt, height=199pt,
  xmin=2015, xmax=2024.6, ymin=-0.6, ymax=0.8,
  ytick={-0.6,-0.4,-0.2,0,0.2,0.4,0.6,0.8}]
\addplot[rser] table[x=x,y=y]{\tFr};
\addplot[bser] table[x=x,y=y]{\tFb};
\addplot[gser] table[x=x,y=y]{\tFg};
\end{axis}
\draw[cred, line width=2.2pt] (600pt,-600pt) -- (625pt,-600pt);
\node[anchor=west, inner sep=0pt, text=tgray, font=\lf] at (629pt,-600pt) {\C{城投债}500ETF\_\C{中信保诚全球商品主题}};
\draw[cblue, line width=2.2pt] (600pt,-616pt) -- (625pt,-616pt);
\node[anchor=west, inner sep=0pt, text=tgray, font=\lf] at (629pt,-616pt) {\C{国债}ETF\_\C{中信保诚全球商品主题}};
\draw[cgray, line width=2.2pt] (600pt,-632.3pt) -- (625pt,-632.3pt);
\node[anchor=west, inner sep=0pt, text=tgray, font=\lf] at (629pt,-632.3pt) {\C{华泰柏瑞红利}ETF\_\C{中信保诚全球商品主题}};

% ===== Panel 7 =====
\begin{axis}[panel, at={(65pt,-1085pt)}, width=390pt, height=183.3pt,
  xmin=2005, xmax=2024.73, ymin=-0.2, ymax=0.4,
  xtick={2005,2006,...,2024}, x tick label style={rotate=90, anchor=east, inner sep=2pt},
  ytick={-0.2,-0.1,0,0.1,0.2,0.3,0.4}]
\addplot[vline] coordinates {(2014.90,-0.2) (2014.90,0.367)};
\addplot[rser, line width=1.8pt] table[x=x,y=y]{\tG};
\addplot[speck] table[x=x,y=y]{\tG};
\end{axis}
\draw[cred, line width=2.2pt] (173pt,-890pt) -- (199pt,-890pt);
\node[anchor=west, inner sep=0pt, text=tgray, font=\lf] at (203pt,-890pt) {\C{沪深}300\C{指数}\_\C{标准普尔}500\C{指数}};

% ===== Panel 8 =====
\begin{axis}[panel, rightp, at={(509.8pt,-1100pt)}, width=398pt, height=195.7pt,
  xmin=2015, xmax=2024.5, ymin=-0.2, ymax=0.7,
  ytick={-0.2,-0.1,0,0.1,0.2,0.3,0.4,0.5,0.6,0.7}]
\addplot[rser, line width=1.8pt] table[x=x,y=y]{\tH};
\addplot[speck] table[x=x,y=y]{\tH};
\end{axis}
\draw[cred, line width=2.2pt] (624pt,-892.7pt) -- (650pt,-892.7pt);
\node[anchor=west, inner sep=0pt, text=tgray, font=\lf] at (652pt,-892.7pt) {\C{沪深}300ETF\_\C{博时标普}500ETF};

\end{tikzpicture}
\end{document}
